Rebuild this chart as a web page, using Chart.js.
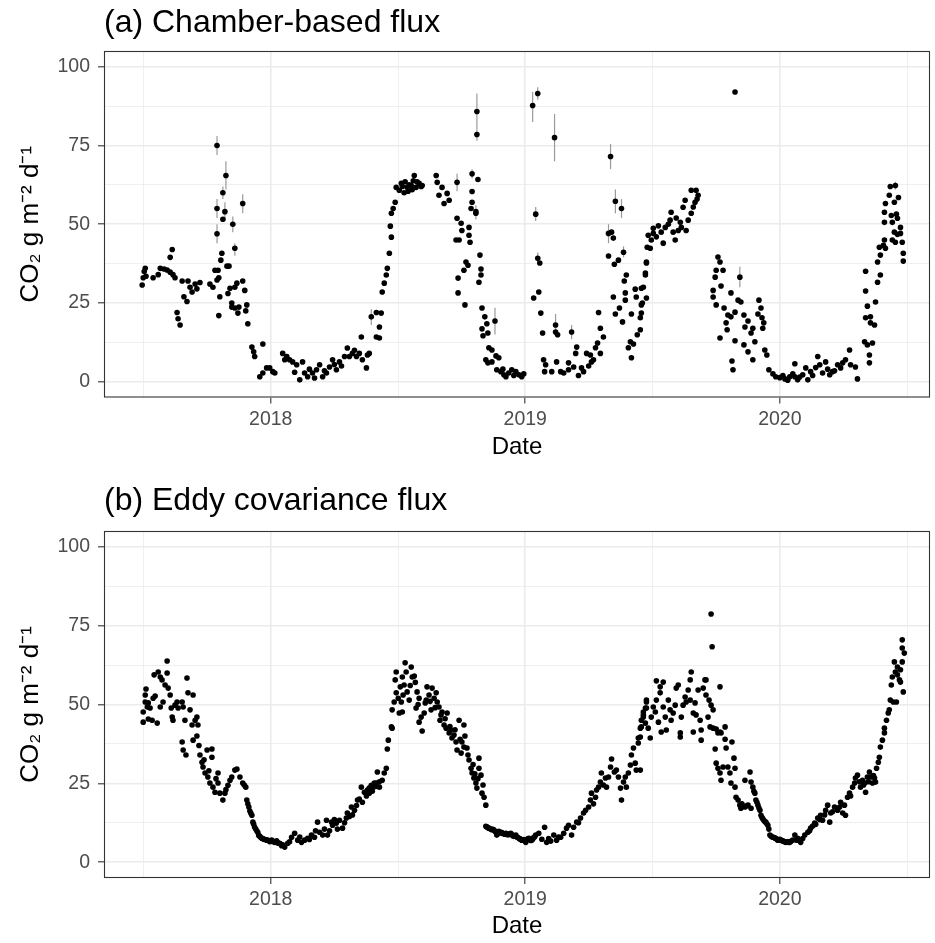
<!DOCTYPE html>
<html>
<head>
<meta charset="utf-8">
<script src="https://cdn.jsdelivr.net/npm/chart.js@4.4.1/dist/chart.umd.min.js"></script>
<style>
  body { margin: 0; background: #fff; }
  #wrap { position: relative; width: 935px; height: 943px; }
  canvas { position: absolute; left: 0; }
</style>
</head>
<body>
<div id="wrap">
  <canvas id="chamber_chart" width="935" height="470" style="top:0px"></canvas>
  <canvas id="eddy_chart" width="935" height="473" style="top:470px"></canvas>
</div>
<script>
// tick labels
const yearTicks = [2018, 2019, 2020];
const fluxTicks = [0, 25, 50, 75, 100];

// (a) chamber-based flux, date as decimal year
const chamberDate = [
  2017.495, 2017.499, 2017.503, 2017.507, 2017.510, 2017.538, 2017.558, 2017.566, 2017.581, 2017.593,
  2017.605, 2017.605, 2017.613, 2017.616, 2017.624, 2017.632, 2017.636, 2017.644, 2017.652, 2017.659,
  2017.671, 2017.675, 2017.683, 2017.691, 2017.703, 2017.710, 2017.722, 2017.761, 2017.773, 2017.781,
  2017.789, 2017.789, 2017.789, 2017.789, 2017.793, 2017.796, 2017.796, 2017.800, 2017.804, 2017.808,
  2017.812, 2017.812, 2017.820, 2017.824, 2017.828, 2017.832, 2017.836, 2017.840, 2017.847, 2017.847,
  2017.851, 2017.859, 2017.859, 2017.859, 2017.867, 2017.871, 2017.875, 2017.890, 2017.890, 2017.898,
  2017.902, 2017.906, 2017.910, 2017.926, 2017.933, 2017.937, 2017.957, 2017.969, 2017.969, 2017.984,
  2017.996, 2018.008, 2018.016, 2018.047, 2018.055, 2018.063, 2018.074, 2018.086, 2018.094, 2018.102,
  2018.114, 2018.125, 2018.133, 2018.145, 2018.152, 2018.164, 2018.172, 2018.180, 2018.192, 2018.204,
  2018.211, 2018.219, 2018.231, 2018.243, 2018.250, 2018.258, 2018.270, 2018.278, 2018.290, 2018.301,
  2018.309, 2018.321, 2018.329, 2018.337, 2018.348, 2018.356, 2018.360, 2018.376, 2018.380, 2018.387,
  2018.395, 2018.415, 2018.415, 2018.427, 2018.427, 2018.434, 2018.438, 2018.446, 2018.454, 2018.458,
  2018.466, 2018.470, 2018.474, 2018.474, 2018.481, 2018.489, 2018.493, 2018.505, 2018.513, 2018.517,
  2018.524, 2018.528, 2018.536, 2018.540, 2018.544, 2018.552, 2018.556, 2018.560, 2018.564, 2018.571,
  2018.575, 2018.583, 2018.591, 2018.595, 2018.650, 2018.654, 2018.661, 2018.673, 2018.681, 2018.693,
  2018.701, 2018.728, 2018.732, 2018.732, 2018.736, 2018.736, 2018.740, 2018.748, 2018.751, 2018.759,
  2018.763, 2018.767, 2018.775, 2018.779, 2018.779, 2018.783, 2018.787, 2018.791, 2018.791, 2018.791,
  2018.806, 2018.806, 2018.810, 2018.810, 2018.814, 2018.818, 2018.822, 2018.826, 2018.826, 2018.830,
  2018.830, 2018.834, 2018.841, 2018.845, 2018.849, 2018.853, 2018.853, 2018.857, 2018.869, 2018.869,
  2018.881, 2018.885, 2018.888, 2018.896, 2018.904, 2018.912, 2018.916, 2018.924, 2018.935, 2018.947,
  2018.955, 2018.963, 2018.975, 2018.986, 2018.994, 2019.029, 2019.033, 2019.041, 2019.049, 2019.049,
  2019.053, 2019.057, 2019.061, 2019.068, 2019.072, 2019.076, 2019.080, 2019.104, 2019.115, 2019.119,
  2019.119, 2019.123, 2019.127, 2019.139, 2019.151, 2019.170, 2019.170, 2019.182, 2019.190, 2019.198,
  2019.202, 2019.209, 2019.221, 2019.229, 2019.241, 2019.249, 2019.256, 2019.260, 2019.268, 2019.276,
  2019.284, 2019.288, 2019.295, 2019.295, 2019.307, 2019.327, 2019.327, 2019.335, 2019.339, 2019.346,
  2019.346, 2019.350, 2019.354, 2019.354, 2019.366, 2019.370, 2019.378, 2019.382, 2019.386, 2019.389,
  2019.393, 2019.393, 2019.397, 2019.405, 2019.413, 2019.417, 2019.417, 2019.425, 2019.432, 2019.436,
  2019.440, 2019.452, 2019.452, 2019.456, 2019.456, 2019.460, 2019.456, 2019.464, 2019.472, 2019.472,
  2019.476, 2019.476, 2019.476, 2019.479, 2019.483, 2019.491, 2019.495, 2019.503, 2019.503, 2019.515,
  2019.523, 2019.534, 2019.542, 2019.550, 2019.562, 2019.569, 2019.573, 2019.581, 2019.589, 2019.593,
  2019.601, 2019.609, 2019.613, 2019.620, 2019.628, 2019.632, 2019.640, 2019.652, 2019.652, 2019.660,
  2019.667, 2019.671, 2019.675, 2019.679, 2019.738, 2019.738, 2019.746, 2019.750, 2019.750, 2019.757,
  2019.765, 2019.765, 2019.769, 2019.777, 2019.781, 2019.789, 2019.793, 2019.796, 2019.808, 2019.808,
  2019.812, 2019.816, 2019.824, 2019.824, 2019.824, 2019.836, 2019.843, 2019.847, 2019.859, 2019.859,
  2019.863, 2019.875, 2019.875, 2019.887, 2019.894, 2019.894, 2019.902, 2019.914, 2019.918, 2019.926,
  2019.930, 2019.933, 2019.937, 2019.941, 2019.949, 2019.957, 2019.973, 2019.984, 2020.000, 2020.012,
  2020.020, 2020.031, 2020.039, 2020.051, 2020.059, 2020.059, 2020.070, 2020.078, 2020.090, 2020.102,
  2020.110, 2020.121, 2020.129, 2020.141, 2020.149, 2020.157, 2020.168, 2020.180, 2020.188, 2020.196,
  2020.207, 2020.215, 2020.227, 2020.239, 2020.247, 2020.258, 2020.274, 2020.278, 2020.297, 2020.305,
  2020.333, 2020.337, 2020.337, 2020.337, 2020.344, 2020.344, 2020.352, 2020.352, 2020.356, 2020.356,
  2020.364, 2020.372, 2020.376, 2020.384, 2020.384, 2020.391, 2020.395, 2020.395, 2020.407, 2020.411,
  2020.411, 2020.411, 2020.415, 2020.415, 2020.430, 2020.434, 2020.438, 2020.442, 2020.442, 2020.450,
  2020.450, 2020.454, 2020.454, 2020.458, 2020.462, 2020.462, 2020.466, 2020.474, 2020.474, 2020.481,
  2020.485, 2020.485
];
const chamberFlux = [
  30.7, 33, 35, 36, 33.5, 33, 34, 36, 35.8, 35.5,
  34.8, 39.5, 42, 34, 33, 22, 20, 18, 32, 27,
  25.5, 32, 30, 28.5, 31, 29.5, 31.5, 31, 30, 35.4,
  47, 55, 75, 32.3, 35.4, 33, 21, 27, 38.6, 40.8,
  60, 51.6, 54, 65.5, 36.7, 28, 36.7, 29.7, 25, 23.7,
  50, 42.4, 23.4, 30, 31.3, 21.8, 23.7, 56.6, 32, 29,
  22.5, 24.4, 18.4, 11, 9.5, 8, 1.6, 12, 2.8, 4.4,
  4.4, 3.2, 2.8, 9, 7, 8, 7, 6.3, 3, 5.4,
  0.6, 6.3, 2.8, 1.6, 4, 2.8, 1.2, 3.8, 5.4, 1.6,
  3.5, 2.8, 4.7, 7, 5.5, 3.8, 6.3, 5, 8, 10.7,
  8, 9, 10, 8, 9, 14.2, 7, 4.4, 8.5, 9,
  20.6, 22, 14.2, 17.4, 13.9, 21.8, 28.5, 31.3, 33.9, 36,
  40.8, 49.4, 45.9, 53.5, 55, 57, 61.7, 60.8, 63, 62,
  60, 63.5, 61.7, 60.5, 62.5, 62.3, 61, 63.8, 65.5, 61.7,
  63.5, 63, 62, 62.3, 65.5, 63.3, 59.2, 61.7, 56.6, 59.8,
  57.6, 45, 63.3, 51.9, 32.9, 28.2, 45, 50.3, 48, 35.4,
  24.4, 38, 37, 49, 46.5, 44.3, 55, 66, 60.4, 57,
  54, 53.5, 85.8, 78.5, 64.2, 31.6, 40.2, 35.8, 33.9, 23.4,
  16.8, 14.6, 20.6, 7, 18.4, 15.5, 6, 10.8, 10.1, 6.3,
  19.3, 8.2, 3.8, 7.6, 3.2, 4, 2.2, 1.6, 2.8, 3.8,
  2, 3.2, 2.2, 1.6, 2.5, 87.7, 26.6, 53.2, 91.5, 39.2,
  28.5, 37.7, 21.8, 15.5, 7, 3.2, 5.4, 3.2, 77.5, 18,
  15.8, 6.3, 14.9, 3.2, 2.8, 3.8, 6, 15.8, 4.7, 9,
  11, 2, 4.4, 3.2, 9, 5, 8.5, 6.3, 7, 10.8,
  12.3, 22, 17, 9, 14.2, 47.1, 39.9, 71.5, 47.5, 45.6,
  26.9, 37.3, 57.3, 21.5, 38.6, 23.4, 55, 19, 41.1, 32,
  28.2, 25.9, 33.9, 10.8, 12.7, 7.6, 21.5, 12, 29.4, 26.9,
  14.9, 16.5, 20.3, 24.4, 21.8, 25, 29.7, 30, 34.5, 33.9,
  37.7, 26.6, 38, 42.7, 46.5, 42.4, 45, 47.1, 48.7, 46,
  49.5, 47.5, 44, 49, 50, 51.3, 53.8, 47.5, 45, 52,
  48, 50.6, 49, 55.4, 57.6, 48, 51.3, 53.5, 60.8, 55.5,
  57, 60.8, 58, 59.2, 29, 26.9, 33.2, 35.4, 24.4, 39.6,
  38, 13.9, 30.4, 35.4, 23.4, 18.7, 16.5, 21.2, 28.2, 20.6,
  6.6, 3.8, 92, 22.1, 13, 25.9, 33.2, 25.3, 21.2, 11.7,
  17.4, 19.3, 9.5, 15.5, 17, 7, 12.7, 21.5, 25.9, 23.4,
  20.3, 17, 18.7, 10.1, 8.5, 3.8, 2.5, 1.6, 1.3, 2,
  0.9, 0.5, 1.6, 2.5, 5.7, 1.6, 0.6, 1.5, 2.2, 4.4,
  0.6, 3.2, 2, 4.5, 8, 5.4, 2.8, 6.3, 4, 2.2,
  3.2, 3.5, 5.4, 4.4, 6, 7, 10.1, 5.4, 4.7, 0.9,
  12.7, 20.3, 28.8, 35.1, 11.7, 24, 8.5, 6, 18.7, 20.6,
  12.3, 18, 25.3, 31.6, 38, 42.7, 33.9, 40.2, 43.3, 45,
  50.6, 53.8, 42.4, 56.6, 59.2, 62, 52.8, 50.6, 45, 57,
  47.5, 62.3, 44.3, 53.2, 51.9, 46.8, 58.5, 49, 47.1, 44.3,
  40.8, 38.3
];

// chamber error bars (lower / upper end)
const chamberErrDate = [
  2017.789, 2017.789, 2017.789, 2017.812, 2017.820, 2017.824, 2017.851, 2017.859, 2017.890, 2018.395,
  2018.732, 2018.791, 2018.806, 2018.810, 2018.810, 2018.881, 2019.029, 2019.041, 2019.049, 2019.049,
  2019.115, 2019.119, 2019.182, 2019.327, 2019.335, 2019.354, 2019.378, 2019.386, 2019.843, 2020.454
];
const chamberErrLow = [
  72, 52, 44, 58, 51, 61, 47.5, 40, 53.5, 18,
  60.5, 64.5, 51.5, 80, 76.5, 15, 82.5, 51, 89.5, 37.5,
  70, 14.5, 13.5, 44, 67.5, 53.5, 52, 39.5, 30, 61
];
const chamberErrHigh = [
  78, 58, 50, 62, 57, 70, 52.5, 44, 59.5, 23,
  66, 67.5, 56, 91.5, 80, 23.5, 92, 55.5, 93.5, 41,
  85, 21.5, 18, 50, 75.5, 61, 58, 43, 36.5, 63.5
];

// (b) eddy covariance flux
const eddyDate = [
  2017.499, 2017.499, 2017.507, 2017.507, 2017.510, 2017.515, 2017.519, 2017.519, 2017.526, 2017.534,
  2017.538, 2017.542, 2017.546, 2017.554, 2017.558, 2017.566, 2017.566, 2017.573, 2017.577, 2017.585,
  2017.593, 2017.593, 2017.597, 2017.605, 2017.609, 2017.613, 2017.616, 2017.624, 2017.632, 2017.636,
  2017.652, 2017.652, 2017.656, 2017.656, 2017.663, 2017.667, 2017.671, 2017.675, 2017.683, 2017.691,
  2017.695, 2017.695, 2017.703, 2017.710, 2017.710, 2017.714, 2017.718, 2017.722, 2017.730, 2017.734,
  2017.738, 2017.742, 2017.750, 2017.753, 2017.757, 2017.761, 2017.769, 2017.769, 2017.773, 2017.781,
  2017.785, 2017.793, 2017.793, 2017.800, 2017.812, 2017.820, 2017.824, 2017.832, 2017.840, 2017.847,
  2017.859, 2017.867, 2017.879, 2017.890, 2017.902, 2017.906, 2017.914, 2017.926, 2017.930, 2017.937,
  2017.949, 2017.965, 2017.973, 2017.984, 2017.996, 2018.004, 2018.016, 2018.023, 2018.035, 2018.047,
  2018.055, 2018.067, 2018.074, 2018.082, 2018.094, 2018.106, 2018.114, 2018.121, 2018.133, 2018.145,
  2018.152, 2018.160, 2018.172, 2018.176, 2018.184, 2018.192, 2018.204, 2018.211, 2018.219, 2018.223,
  2018.231, 2018.239, 2018.243, 2018.250, 2018.258, 2018.262, 2018.270, 2018.282, 2018.290, 2018.297,
  2018.301, 2018.309, 2018.317, 2018.321, 2018.329, 2018.337, 2018.341, 2018.348, 2018.356, 2018.360,
  2018.368, 2018.376, 2018.380, 2018.387, 2018.387, 2018.395, 2018.399, 2018.399, 2018.407, 2018.411,
  2018.415, 2018.419, 2018.427, 2018.427, 2018.438, 2018.446, 2018.454, 2018.458, 2018.462, 2018.474,
  2018.477, 2018.477, 2018.485, 2018.489, 2018.493, 2018.493, 2018.501, 2018.505, 2018.509, 2018.513,
  2018.517, 2018.517, 2018.520, 2018.524, 2018.528, 2018.532, 2018.536, 2018.544, 2018.548, 2018.552,
  2018.556, 2018.564, 2018.568, 2018.571, 2018.575, 2018.579, 2018.583, 2018.583, 2018.591, 2018.595,
  2018.603, 2018.607, 2018.611, 2018.614, 2018.622, 2018.626, 2018.630, 2018.634, 2018.642, 2018.646,
  2018.650, 2018.654, 2018.661, 2018.665, 2018.669, 2018.673, 2018.681, 2018.685, 2018.689, 2018.693,
  2018.701, 2018.704, 2018.708, 2018.712, 2018.720, 2018.724, 2018.728, 2018.732, 2018.740, 2018.744,
  2018.748, 2018.751, 2018.759, 2018.759, 2018.763, 2018.771, 2018.775, 2018.779, 2018.787, 2018.791,
  2018.795, 2018.798, 2018.802, 2018.806, 2018.810, 2018.814, 2018.818, 2018.818, 2018.826, 2018.830,
  2018.834, 2018.838, 2018.845, 2018.845, 2018.857, 2018.865, 2018.877, 2018.888, 2018.896, 2018.904,
  2018.916, 2018.924, 2018.935, 2018.943, 2018.955, 2018.963, 2018.975, 2018.986, 2018.994, 2019.002,
  2019.014, 2019.025, 2019.033, 2019.041, 2019.053, 2019.065, 2019.076, 2019.084, 2019.092, 2019.100,
  2019.112, 2019.123, 2019.131, 2019.139, 2019.151, 2019.162, 2019.170, 2019.182, 2019.190, 2019.202,
  2019.209, 2019.217, 2019.229, 2019.237, 2019.249, 2019.256, 2019.260, 2019.268, 2019.276, 2019.280,
  2019.288, 2019.295, 2019.299, 2019.307, 2019.315, 2019.319, 2019.327, 2019.335, 2019.339, 2019.350,
  2019.358, 2019.366, 2019.374, 2019.378, 2019.386, 2019.393, 2019.397, 2019.405, 2019.413, 2019.417,
  2019.425, 2019.432, 2019.436, 2019.444, 2019.444, 2019.452, 2019.452, 2019.452, 2019.456, 2019.456,
  2019.464, 2019.464, 2019.464, 2019.472, 2019.472, 2019.476, 2019.476, 2019.476, 2019.483, 2019.491,
  2019.495, 2019.503, 2019.511, 2019.515, 2019.515, 2019.523, 2019.530, 2019.530, 2019.534, 2019.542,
  2019.542, 2019.550, 2019.554, 2019.562, 2019.569, 2019.573, 2019.581, 2019.589, 2019.593, 2019.601,
  2019.609, 2019.609, 2019.613, 2019.620, 2019.628, 2019.632, 2019.640, 2019.648, 2019.648, 2019.652,
  2019.660, 2019.660, 2019.667, 2019.671, 2019.679, 2019.687, 2019.691, 2019.691, 2019.699, 2019.706,
  2019.710, 2019.710, 2019.718, 2019.722, 2019.726, 2019.730, 2019.734, 2019.730, 2019.738, 2019.738,
  2019.746, 2019.750, 2019.750, 2019.757, 2019.757, 2019.765, 2019.765, 2019.765, 2019.769, 2019.769,
  2019.777, 2019.785, 2019.785, 2019.789, 2019.796, 2019.804, 2019.808, 2019.812, 2019.820, 2019.824,
  2019.824, 2019.828, 2019.836, 2019.843, 2019.847, 2019.851, 2019.863, 2019.863, 2019.867, 2019.875,
  2019.883, 2019.887, 2019.887, 2019.894, 2019.898, 2019.902, 2019.906, 2019.914, 2019.922, 2019.926,
  2019.937, 2019.945, 2019.953, 2019.961, 2019.973, 2019.984, 2019.992, 2020.000, 2020.012, 2020.023,
  2020.031, 2020.039, 2020.051, 2020.059, 2020.067, 2020.070, 2020.082, 2020.090, 2020.098, 2020.110,
  2020.117, 2020.121, 2020.129, 2020.137, 2020.141, 2020.149, 2020.157, 2020.160, 2020.168, 2020.176,
  2020.180, 2020.188, 2020.196, 2020.200, 2020.207, 2020.215, 2020.227, 2020.235, 2020.239, 2020.247,
  2020.254, 2020.258, 2020.266, 2020.274, 2020.278, 2020.286, 2020.294, 2020.297, 2020.305, 2020.313,
  2020.317, 2020.325, 2020.329, 2020.333, 2020.337, 2020.344, 2020.348, 2020.352, 2020.356, 2020.364,
  2020.368, 2020.372, 2020.376, 2020.380, 2020.387, 2020.391, 2020.395, 2020.403, 2020.411, 2020.411,
  2020.419, 2020.426, 2020.430, 2020.434, 2020.438, 2020.442, 2020.446, 2020.450, 2020.454, 2020.458,
  2020.462, 2020.462, 2020.470, 2020.474, 2020.474, 2020.481, 2020.481, 2020.481, 2020.485, 2020.489,
  // denser stretches where the daily record forms a continuous band
  2017.896, 2017.910, 2017.918, 2017.922, 2017.933, 2017.941, 2017.945, 2017.953, 2017.957, 2017.961,
  2017.969, 2017.977, 2017.988, 2018.000, 2018.008, 2018.012, 2018.027, 2018.031, 2018.039, 2018.043,
  2018.849, 2018.853, 2018.861, 2018.869, 2018.873, 2018.881, 2018.885, 2018.892, 2018.900, 2018.908,
  2018.912, 2018.920, 2018.928, 2018.931, 2018.939, 2018.947, 2018.951, 2018.959, 2018.967, 2018.971,
  2018.979, 2018.982, 2018.990, 2018.998, 2019.006, 2019.010, 2019.018, 2019.022, 2019.029, 2019.037,
  2019.910, 2019.918, 2019.930, 2019.933, 2019.941, 2019.949, 2019.957, 2019.965, 2019.969, 2019.977,
  2019.980, 2019.988, 2019.996, 2020.004, 2020.008, 2020.016, 2020.020, 2020.027, 2020.035, 2020.043
];
const eddyFlux = [
  44.4, 47.6, 50.8, 53, 54.9, 49.2, 50.5, 45.4, 48.9, 45,
  52, 59.4, 52.7, 44.1, 60.3, 58.7, 49.2, 57.8, 50.8, 56.2,
  63.8, 60, 55.2, 53, 48.9, 46, 45, 49.8, 50.8, 48.9,
  50.8, 38.1, 49.2, 35.6, 45, 34, 58.4, 53.7, 48.3, 43.5,
  53, 38.7, 45, 46, 40, 43.5, 37, 34, 31.7, 30.2,
  32.5, 28.3, 35.6, 27, 29, 25.1, 35.9, 33.3, 23.8, 22.2,
  26.5, 28.3, 25.1, 21.9, 19.7, 21.9, 23, 24.4, 26, 27,
  29.2, 29.5, 27, 25.1, 23.8, 19.7, 17.5, 14.9, 12.7, 11.1,
  9.5, 7.6, 7.3, 7, 6.5, 7, 6.3, 6.8, 6, 5.5,
  4.8, 6, 6.5, 7.9, 9.2, 7, 8, 6.3, 7, 7.6,
  7.2, 8.6, 7.9, 10, 12.7, 9.5, 8.6, 10.5, 13.3, 8.6,
  10, 12.7, 11.7, 13.5, 12.4, 10.5, 13.3, 10.8, 12.5, 14,
  15.6, 14.5, 17.5, 15, 16.5, 18, 19.7, 20, 23.8, 19,
  22.2, 21, 22.9, 21.9, 23.5, 24.4, 23.5, 22.5, 25.1, 24,
  25.1, 28.6, 23.8, 25.5, 26, 28.3, 29.8, 35.9, 38.7, 42.9,
  42.5, 48.3, 50.8, 57.8, 53.7, 60.3, 52, 47.3, 55.6, 50.8,
  47.6, 58.7, 53, 56.2, 63.2, 60.3, 54, 51.4, 56, 61.9,
  58.7, 59, 57, 48.9, 54, 50, 52, 44.4, 46, 41.6,
  47.3, 50.5, 51.4, 55.6, 53, 51, 48.3, 55.2, 52, 49,
  53.7, 50.8, 49.2, 45, 46.7, 47.6, 43.5, 45.5, 42.5, 47.3,
  41, 43, 41.9, 39.4, 40.3, 42, 38.1, 35.6, 45, 39,
  34.6, 38.1, 43.5, 36.5, 40, 36.2, 34, 32.4, 29.8, 28.3,
  31, 26.7, 28, 25.1, 23.5, 26.5, 33, 29.8, 27.6, 21.9,
  24.5, 20.6, 18.1, 11.4, 10.8, 10.5, 10.2, 8.6, 9.8, 9.5,
  9, 9.2, 8.8, 9.2, 8.2, 8.6, 7.6, 7, 7.2, 6.3,
  7.6, 7, 7.8, 8.6, 9.2, 7.3, 11.1, 6.3, 7.5, 6.7,
  8.6, 7, 8, 7.9, 9.2, 10.8, 11.7, 8.6, 11.1, 12.7,
  12.5, 14, 15.6, 16.5, 17.5, 19.7, 21.9, 18.5, 20.6, 22.9,
  23.8, 25.4, 28.3, 24.5, 26.7, 23.8, 27, 30.2, 32.7, 28.6,
  29.2, 27, 23.5, 19.7, 25.4, 27, 23.8, 28.3, 30.8, 34,
  36.2, 31.4, 29.2, 39.4, 37.8, 42.5, 39.7, 29.2, 45, 42.9,
  46.7, 46, 47.6, 48.9, 44.1, 50.8, 48.9, 51.4, 42.5, 39.4,
  46, 49.2, 47.6, 51.4, 57.5, 44.4, 55.6, 53.7, 41.3, 57.1,
  49.2, 46, 41.9, 51.4, 48.3, 45, 47.3, 49.8, 55.2, 56.2,
  39.7, 41, 46, 49.8, 52.4, 50.8, 54.6, 51.4, 57.8, 60.3,
  41.3, 47.3, 50.5, 46.7, 54.6, 45, 41.9, 38.7, 55.2, 57.8,
  57.8, 53, 46, 51.4, 42.9, 78.7, 68.3, 49.8, 48.3, 42.5,
  35.9, 42.2, 31.4, 41, 29.8, 55.6, 41.3, 28.3, 41, 26,
  30.2, 42.9, 39, 36.2, 30.2, 28.3, 25.1, 38.1, 33, 29.8,
  23.8, 20.6, 19.7, 18.1, 17.1, 18.5, 17.5, 26, 17.8, 18.1,
  28.6, 17.1, 25.4, 23.8, 22.5, 21.9, 19.7, 18.1, 16.5, 14.9,
  13.3, 12.7, 11.7, 8.6, 7.9, 7.6, 7, 7.3, 6.7, 6.3,
  6.5, 6.3, 7, 8.6, 7, 7.6, 6.3, 7.5, 8.6, 9.5,
  10, 10.8, 11.5, 12.4, 12, 14, 13.5, 14.9, 13.3, 15,
  16.5, 18.1, 12.7, 15.6, 16, 17.5, 16.5, 17.5, 19, 15.6,
  18.1, 14.9, 20.6, 21.9, 21, 23.8, 25.1, 26.7, 27.6, 25.5,
  23.8, 26, 24.5, 25.1, 22.2, 27, 25.5, 28.6, 27, 25.1,
  27.5, 26.7, 25.4, 29.8, 31.7, 33.3, 36.5, 38.7, 41, 42.5,
  45, 47.3, 48.3, 51.4, 56.2, 58.7, 50.8, 63.5, 60.3, 50.8,
  59.4, 61.9, 57.8, 61, 57.1, 67.9, 70.5, 63.5, 54, 66.3,
  // denser stretches
  24.5, 18.5, 16.2, 15.5, 12, 10.5, 10, 8.5, 8.2, 7.8,
  7.5, 7.2, 7, 6.8, 6.6, 6.5, 6.2, 6, 5.8, 5.2,
  11.2, 11, 10.6, 10.3, 10.4, 9.8, 9.5, 9, 9.3, 9.4,
  9.1, 8.9, 9, 8.7, 8.9, 8.8, 8.4, 8.3, 8, 7.8,
  7.4, 7.3, 7, 6.8, 7.2, 7.4, 7.1, 6.9, 7.3, 8.1,
  19, 17.2, 14.2, 13.8, 12.9, 12.2, 10.5, 8.3, 8.1, 7.8,
  7.7, 7.3, 7.1, 7, 6.9, 6.6, 6.5, 6.4, 6.3, 6.6
];

const FONT = "'Liberation Sans', Arial, Helvetica, sans-serif";

function toPoints(dates, values) {
    return dates.map((d, i) => ({ x: d, y: values[i] }));
}

// grey frame round the panel, like theme_bw
const panelBorder = {
    id: 'panelBorder',
    afterDatasetsDraw(chart) {
        const a = chart.chartArea;
        const ctx = chart.ctx;
        ctx.save();
        ctx.strokeStyle = '#333333';
        ctx.lineWidth = 1.1;
        ctx.strokeRect(a.left + 0.5, a.top + 0.5, a.right - a.left - 1, a.bottom - a.top - 1);
        ctx.restore();
    }
};

function errorBars(dates, lows, highs) {
    return {
        id: 'errorBars',
        beforeDatasetsDraw(chart) {
            const xs = chart.scales.x, ys = chart.scales.y, ctx = chart.ctx;
            ctx.save();
            ctx.strokeStyle = '#9a9a9a';
            ctx.lineWidth = 1.2;
            for (let i = 0; i < dates.length; i++) {
                const x = xs.getPixelForValue(dates[i]);
                ctx.beginPath();
                ctx.moveTo(x, ys.getPixelForValue(lows[i]));
                ctx.lineTo(x, ys.getPixelForValue(highs[i]));
                ctx.stroke();
            }
            ctx.restore();
        }
    };
}

function getChartJs(title, dates, values, titlePad, xHeight, dateTitlePad, plugins) {
    return {
        type: 'scatter',
        data: {
            datasets: [{
                data: toPoints(dates, values),
                pointRadius: 2.8,
                pointBackgroundColor: '#000000',
                pointBorderWidth: 0,
                pointHoverRadius: 2.8
            }]
        },
        options: {
            responsive: false,
            animation: false,
            devicePixelRatio: 1,
            events: [],
            layout: { padding: { top: 0, left: 0, right: 5, bottom: 0 } },
            plugins: {
                legend: { display: false },
                tooltip: { enabled: false },
                title: {
                    display: true,
                    text: title,
                    align: 'start',
                    fullSize: false,
                    color: '#000000',
                    font: { family: FONT, size: 32, weight: 'normal' },
                    padding: titlePad
                }
            },
            scales: {
                x: {
                    type: 'linear',
                    min: 2017.345,
                    max: 2020.59,
                    afterFit: s => { s.height = xHeight; },
                    border: { display: false },
                    grid: {
                        color: '#ebebeb',
                        lineWidth: c => (c.tick && yearTicks.includes(c.tick.value)) ? 1.6 : 0.8,
                        tickColor: c => (c.tick && yearTicks.includes(c.tick.value)) ? '#333333' : 'rgba(0,0,0,0)',
                        tickLength: 6,
                        tickWidth: 1.1
                    },
                    ticks: {
                        stepSize: 0.5,
                        includeBounds: false,
                        autoSkip: false,
                        maxRotation: 0,
                        maxTicksLimit: 20,
                        padding: 4,
                        color: '#4d4d4d',
                        font: { family: FONT, size: 19.5 },
                        callback: v => yearTicks.includes(v) ? String(v) : ''
                    },
                    title: {
                        display: true,
                        text: 'Date',
                        color: '#000000',
                        font: { family: FONT, size: 24 },
                        padding: { top: 0, bottom: dateTitlePad }
                    }
                },
                y: {
                    min: -5,
                    max: 105,
                    afterFit: s => { s.width = 104; },
                    border: { display: false },
                    grid: {
                        color: '#ebebeb',
                        lineWidth: c => (c.tick && fluxTicks.includes(c.tick.value)) ? 1.6 : 0.8,
                        tickColor: c => (c.tick && fluxTicks.includes(c.tick.value)) ? '#333333' : 'rgba(0,0,0,0)',
                        tickLength: 6,
                        tickWidth: 1.1
                    },
                    ticks: {
                        stepSize: 12.5,
                        includeBounds: false,
                        autoSkip: false,
                        maxTicksLimit: 20,
                        padding: 8,
                        color: '#4d4d4d',
                        font: { family: FONT, size: 19.5 },
                        callback: v => fluxTicks.includes(v) ? String(v) : ''
                    },
                    title: {
                        display: true,
                        text: 'CO\u2082 g m\u207B\u00B2 d\u207B\u00B9',
                        color: '#000000',
                        font: { family: FONT, size: 26 },
                        padding: { top: 15, bottom: 0 }
                    }
                }
            }
        },
        plugins: plugins
    };
}

new Chart(document.getElementById('chamber_chart').getContext('2d'),
    getChartJs('(a) Chamber-based flux', chamberDate, chamberFlux,
        { top: 4, bottom: 8.6 }, 72.5, 8,
        [errorBars(chamberErrDate, chamberErrLow, chamberErrHigh), panelBorder]));

new Chart(document.getElementById('eddy_chart').getContext('2d'),
    getChartJs('(b) Eddy covariance flux', eddyDate, eddyFlux,
        { top: 12, bottom: 10.6 }, 65, 2,
        [panelBorder]));
</script>
</body>
</html>
